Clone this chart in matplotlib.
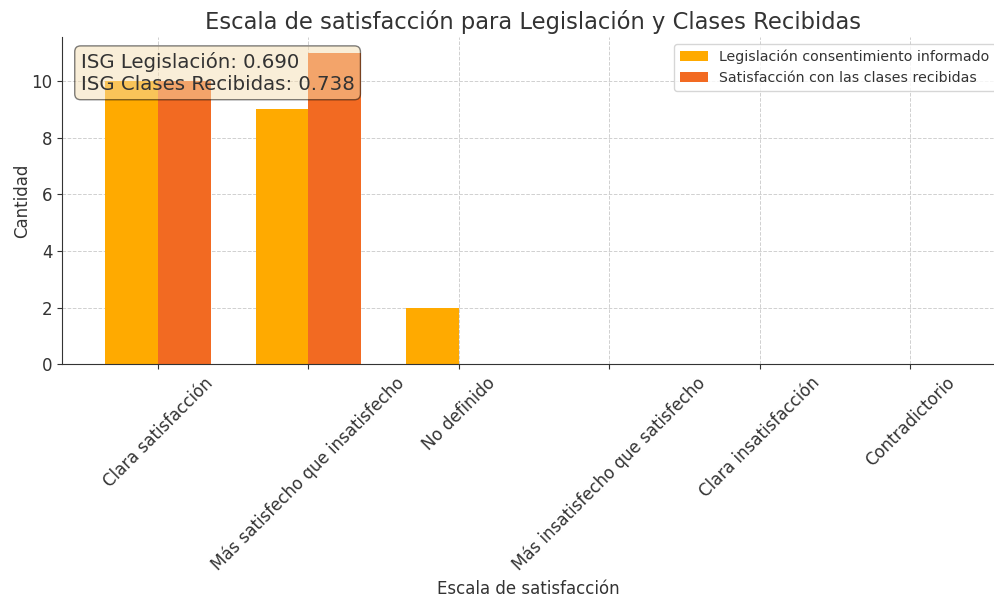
import numpy as np
import matplotlib
matplotlib.use('Agg')
import matplotlib.pyplot as plt

# --- Data
categorias = ['Clara satisfacción', 'Más satisfecho que insatisfecho', 'No definido',
              'Más insatisfecho que satisfecho', 'Clara insatisfacción', 'Contradictorio']
legislacion = [10, 9, 2, 0, 0, 0]
clases = [10, 11, 0, 0, 0, 0]
isg_legislacion = 0.690
isg_clases = 0.738

plt.rcParams['text.color'] = '#333333'
plt.rcParams['axes.labelcolor'] = '#333333'
plt.rcParams['xtick.color'] = '#333333'
plt.rcParams['ytick.color'] = '#333333'

x = np.arange(len(categorias))
w = 0.35

fig = plt.figure(figsize=(9.95, 5.98), dpi=100)
ax = fig.add_axes([0.0623, 0.391, 0.9377, 0.547])
ax.bar(x - w/2, legislacion, w, color='#FFAA00', label='Legislación consentimiento informado')
ax.bar(x + w/2, clases, w, color='#F26A22', label='Satisfacción con las clases recibidas')

ax.set_xlim(-0.638, 5.565)
ax.set_xticks(x)
ax.set_xticklabels(categorias, rotation=45, ha='center', fontsize=12)
ax.tick_params(axis='y', labelsize=12)
ax.set_xlabel('Escala de satisfacción', fontsize=12)
ax.set_ylabel('Cantidad', fontsize=12, labelpad=0)
ax.set_title('Escala de satisfacción para Legislación y Clases Recibidas', fontsize=16.3, pad=6, x=0.505)
ax.grid(True, linestyle='--', color='#d0d0d0', linewidth=0.7)
ax.set_axisbelow(True)
for s in ['top', 'right']:
    ax.spines[s].set_visible(False)
ax.spines['left'].set_color('#333333')
ax.spines['bottom'].set_color('#333333')

ax.text(0.02, 0.955, 'ISG Legislación: {:.3f}\nISG Clases Recibidas: {:.3f}'.format(isg_legislacion, isg_clases),
        transform=ax.transAxes, fontsize=14.2, va='top', ha='left',
        bbox=dict(boxstyle='round', facecolor='wheat', alpha=0.5))
ax.legend(loc='upper right', fontsize=10.2, bbox_to_anchor=(1.008, 1.0))

fig.savefig('out.png', dpi=100)
